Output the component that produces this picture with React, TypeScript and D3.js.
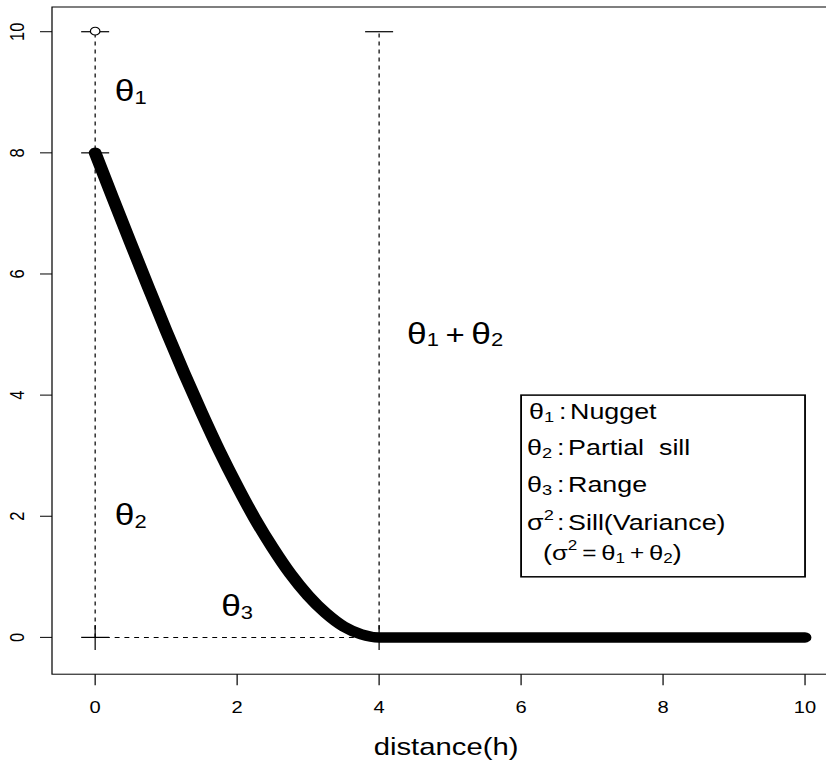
import React from "react";
import * as d3 from "d3";

// ---- data ----
const distances = [0, 0.25, 0.5, 0.75, 1, 1.25, 1.5, 1.75, 2, 2.25, 2.5, 2.75, 3, 3.25, 3.5, 3.75, 4, 5, 6, 7, 8, 9, 10];
const covariance = [8, 7.25, 6.51, 5.78, 5.06, 4.37, 3.71, 3.08, 2.5, 1.96, 1.48, 1.05, 0.69, 0.4, 0.18, 0.05, 0, 0, 0, 0, 0, 0, 0];
const xTicks = [0, 2, 4, 6, 8, 10];
const yTicks = [0, 2, 4, 6, 8, 10];
const xLabel = "distance(h)";

// reference guides
const dashedV = [{ h: 0, v0: 0, v1: 10 }, { h: 4, v0: 0, v1: 10 }];
const dashedH = [{ v: 0, h0: 0, h1: 4 }];
const hBars = [{ h: 0, v: 10 }, { h: 0, v: 8 }, { h: 0, v: 0 }, { h: 4, v: 10 }, { h: 4, v: 0 }];
const vBars = [{ h: 0, v: 0 }, { h: 4, v: 0 }];
const circles = [{ h: 0, v: 10 }];

// annotations
const thetaLabels = [
  { sym: "θ", sub: "1", h: 0.5, v: 9 },
  { sym: "θ", sub: "2", h: 0.5, v: 2 },
  { sym: "θ", sub: "3", h: 2, v: 0.5 },
];
const sumLabel = { h: 5.07, v: 5 };
const legendBox = { h0: 6, h1: 10, v0: 1, v1: 4 };
const legendRows = [
  { sym: "θ", idx: "1", sup: false, word: "Nugget", v: 3.6, dx: 2 },
  { sym: "θ", idx: "2", sup: false, word: "Partial\u00a0\u00a0sill", v: 3.01, dx: 0 },
  { sym: "θ", idx: "3", sup: false, word: "Range", v: 2.4, dx: 0 },
  { sym: "σ", idx: "2", sup: true, word: "Sill(Variance)", v: 1.77, dx: 0 },
];
const legendFormulaV = 1.28;

const SX = 1.22; // horizontal stretch of the whole picture
const W = 826;
const H = 762;
const FONT = "'Liberation Sans', Arial, Helvetica, sans-serif";

export default function App() {
  const x = d3.scaleLinear().domain([-0.608, 10.408]).range([52 / SX, 834 / SX]);
  const y = d3.scaleLinear().domain([-0.608, 10.408]).range([674.2, 7.0]);

  const line = d3
    .line<number>()
    .x((_, i) => x(distances[i]))
    .y((d) => y(d))
    .curve(d3.curveMonotoneX);

  const hb = 14 / SX;
  const vb = 12.5;

  return (
    <svg
      width={W}
      height={H}
      style={{ position: "absolute", left: 0, top: 0, background: "#fff" }}
      fontFamily={FONT}
    >
      <rect x={0} y={0} width={W} height={H} fill="#fff" />
      <g transform={`scale(${SX},1)`}>
        {/* plot box */}
        <rect
          x={x(-0.608)}
          y={y(10.408)}
          width={x(10.408) - x(-0.608)}
          height={y(-0.608) - y(10.408)}
          fill="none"
          stroke="#000"
          strokeWidth={1}
        />
        {/* x axis */}
        {xTicks.map((t) => (
          <g key={"xt" + t}>
            <line x1={x(t)} x2={x(t)} y1={y(-0.608)} y2={y(-0.608) + 11} stroke="#000" strokeWidth={1} />
            <text x={x(t)} y={713.5} fontSize={16.5} textAnchor="middle" fill="#000">
              {t}
            </text>
          </g>
        ))}
        {/* y axis */}
        {yTicks.map((t) => (
          <g key={"yt" + t}>
            <line x1={x(-0.608) - 12 / SX} x2={x(-0.608)} y1={y(t)} y2={y(t)} stroke="#000" strokeWidth={1} />
            <text
              transform={`translate(${24 / SX},${y(t)}) rotate(-90)`}
              fontSize={16.5}
              textAnchor="middle"
              fill="#000"
            >
              {t}
            </text>
          </g>
        ))}
        <text x={x(5) - 4 / SX} y={755} fontSize={24} textAnchor="middle" fill="#000">
          {xLabel}
        </text>

        {/* dashed guides */}
        {dashedV.map((d, i) => (
          <line key={"dv" + i} x1={x(d.h)} x2={x(d.h)} y1={y(d.v0)} y2={y(d.v1)} stroke="#000" strokeWidth={1} strokeDasharray="4,4" />
        ))}
        {dashedH.map((d, i) => (
          <line key={"dh" + i} x1={x(d.h0)} x2={x(d.h1)} y1={y(d.v)} y2={y(d.v)} stroke="#000" strokeWidth={1} strokeDasharray="4,4" />
        ))}
        {hBars.map((d, i) => (
          <line key={"hb" + i} x1={x(d.h) - hb} x2={x(d.h) + hb} y1={y(d.v)} y2={y(d.v)} stroke="#000" strokeWidth={1.2} />
        ))}
        {vBars.map((d, i) => (
          <line key={"vb" + i} x1={x(d.h)} x2={x(d.h)} y1={y(d.v) - vb} y2={y(d.v) + vb} stroke="#000" strokeWidth={1} />
        ))}
        {circles.map((d, i) => (
          <circle key={"c" + i} cx={x(d.h)} cy={y(d.v) - 0.5} r={3.9} fill="#fff" stroke="#000" strokeWidth={1} />
        ))}

        {/* covariance curve */}
        <path d={line(covariance) || ""} fill="none" stroke="#000" strokeWidth={10.5} strokeLinecap="round" strokeLinejoin="round" />

        {/* theta labels */}
        {thetaLabels.map((d, i) => (
          <text key={"tl" + i} x={x(d.h)} y={y(d.v) + 9} textAnchor="middle" fill="#000">
            <tspan fontSize={29}>{d.sym}</tspan>
            <tspan fontSize={18} dy={3}>{d.sub}</tspan>
          </text>
        ))}
        <text x={x(sumLabel.h)} y={y(sumLabel.v) + 9.5} textAnchor="middle" fill="#000">
          <tspan fontSize={29}>θ</tspan>
          <tspan fontSize={18} dy={2}>1</tspan>
          <tspan fontSize={27} dy={-2}>{"\u2009+\u2009"}</tspan>
          <tspan fontSize={29}>θ</tspan>
          <tspan fontSize={18} dy={2}>2</tspan>
        </text>

        {/* legend */}
        <rect
          x={x(legendBox.h0)}
          y={y(legendBox.v1)}
          width={x(legendBox.h1) - x(legendBox.h0)}
          height={y(legendBox.v0) - y(legendBox.v1)}
          fill="#fff"
          stroke="#000"
          strokeWidth={1.5}
        />
        {legendRows.map((r, i) => {
          const x0 = x(legendBox.h0) + (6 + r.dx) / SX;
          const by = y(r.v);
          return (
            <text key={"lg" + i} y={by} fill="#000">
              <tspan x={x0} fontSize={22}>{r.sym}</tspan>
              <tspan fontSize={15} dy={r.sup ? -10 : 3}>{r.idx}</tspan>
              <tspan x={x0 + 30 / SX} y={by} fontSize={22}>:</tspan>
              <tspan x={x0 + 41 / SX} y={by} fontSize={22}>{r.word}</tspan>
            </text>
          );
        })}
        <text x={x(legendBox.h0) + 22 / SX} y={y(legendFormulaV)} fill="#000">
          <tspan fontSize={22}>(</tspan>
          <tspan fontSize={21}>σ</tspan>
          <tspan fontSize={14} dy={-10}>2</tspan>
          <tspan fontSize={20} dy={10}>{"\u2009=\u2009"}</tspan>
          <tspan fontSize={21}>θ</tspan>
          <tspan fontSize={14} dy={3}>1</tspan>
          <tspan fontSize={20} dy={-3}>{"\u2009+\u2009"}</tspan>
          <tspan fontSize={21}>θ</tspan>
          <tspan fontSize={14} dy={3}>2</tspan>
          <tspan fontSize={22} dy={-3}>)</tspan>
        </text>
      </g>
    </svg>
  );
}
